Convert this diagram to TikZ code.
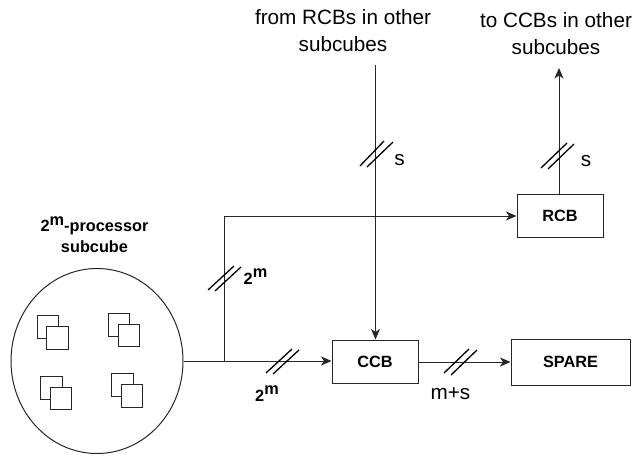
\documentclass[tikz,border=0pt]{standalone}
\usepackage{fontspec}
\setmainfont{Liberation Sans}
\usetikzlibrary{arrows.meta,shapes.geometric}
\newcommand{\regtext}{\fontsize{20.7}{27}\selectfont}
\newcommand{\bldtext}{\fontsize{16.3}{20.5}\selectfont\bfseries}
\newcommand{\twom}{2\raisebox{0.42em}{m}}
\tikzset{
  wire/.style={line width=1pt,draw=black!85},
  flow/.style={wire,-{Stealth[length=10.5pt,width=9pt,inset=3pt]}},
  blockbox/.style={draw=black!85,line width=1pt,fill=white,inner sep=0pt,font=\bldtext},
  tick/.style={draw=black,line width=1.3pt},
  chip/.style={draw=black!85,line width=1pt,fill=white},
  rlabel/.style={inner sep=0pt,align=center,font=\regtext},
  blabel/.style={inner sep=0pt,align=center,font=\bldtext},
}
\begin{document}
\begin{tikzpicture}[x=1pt,y=-1pt]
\useasboundingbox (0,0) rectangle (638,456);
% subcube
\node[draw=black!85,line width=1pt,ellipse,minimum width=172pt,minimum height=185pt,inner sep=0pt] (cube) at (97,361) {};
\node[blabel] (cubelabel) at (94.5,234.5) {\twom-processor\\subcube};
% processors
\draw[chip] (37,315.5) rectangle (58,338);
\draw[chip] (46.5,326.5) rectangle (68,349);
\draw[chip] (108,313) rectangle (129.5,336);
\draw[chip] (118,324) rectangle (139.5,346.5);
\draw[chip] (40.5,376) rectangle (62,399);
\draw[chip] (50,387) rectangle (71.5,409);
\draw[chip] (111.5,373.5) rectangle (133,396.5);
\draw[chip] (121,384.5) rectangle (142.5,407);
% blocks
\node[blockbox,minimum width=86pt,minimum height=43pt] (ccb) at (375,361.5) {CCB};
\node[blockbox,minimum width=119pt,minimum height=46pt] (spare) at (570.5,362) {SPARE};
\node[blockbox,minimum width=86pt,minimum height=43pt] (rcb) at (560,215.5) {RCB};
% free ends
\coordinate (junction) at (224,361);
\coordinate (corner) at (224,216);
\coordinate (fromend) at (375.5,65);
\coordinate (toend) at (559,68);
% connectors
\draw[wire] (cube.east) -- (junction);
\draw[flow] (junction) -- (ccb.west |- junction);
\draw[flow] (junction) -- (corner) -- (rcb.west |- corner);
\draw[flow] (fromend) -- (ccb.north -| fromend);
\draw[flow] (rcb.north -| toend) -- (toend);
\draw[flow] (ccb.east |- 0,362) -- (spare.west |- 0,362);
% ticks
\draw[tick] (360,166) -- (384,141) (367,167) -- (393,142);
\draw[tick] (541,168) -- (567,143) (548,169) -- (574,144);
\draw[tick] (208,290) -- (234,266) (215,291) -- (241,267);
\draw[tick] (266,373) -- (292,349) (273,374) -- (299,350);
\draw[tick] (444,373) -- (469,349) (451,375) -- (477,350);
% labels
\node[rlabel] (fromlabel) at (343,30.5) {from RCBs in other\\subcubes};
\node[rlabel] (tolabel) at (556,33.5) {to CCBs in other\\subcubes};
\node[rlabel] (s1) at (399.5,160) {s};
\node[rlabel] (s2) at (586,161) {s};
\node[rlabel] (ms) at (450.5,393.5) {m+s};
\node[blabel] (m1) at (255.5,277) {\twom};
\node[blabel] (m2) at (267,394) {\twom};
\end{tikzpicture}
\end{document}
